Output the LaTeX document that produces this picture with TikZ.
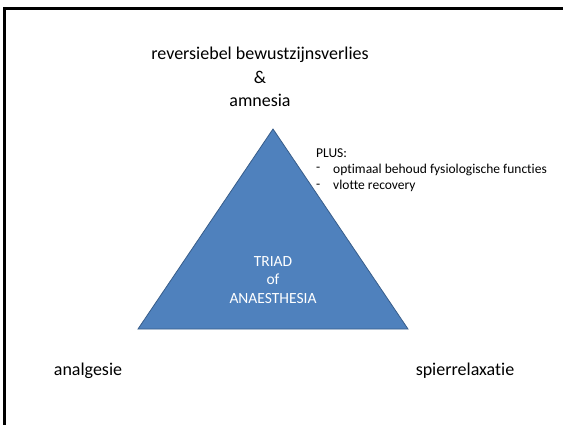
\documentclass[tikz,border=0pt]{standalone}
\usepackage{fontspec}
\setmainfont{Carlito}[Ligatures=NoCommon]
\usetikzlibrary{positioning}
\definecolor{triblue}{RGB}{79,129,189}
\definecolor{triedge}{RGB}{56,93,138}

\begin{document}
\begin{tikzpicture}[
    x=1pt,y=-1pt,
    lbl/.style={align=center,font=\fontsize{18}{23.5}\selectfont,inner sep=0pt},
    note/.style={align=left,font=\fontsize{13.5}{16.5}\selectfont,inner sep=0pt},
    inlbl/.style={align=center,text=white,font=\fontsize{15.5}{18.5}\selectfont,inner sep=0pt},
    tri/.style={draw=triedge,fill=triblue,line width=0.8pt},
    frame/.style={line width=3.5pt,line cap=rect}
  ]
    \useasboundingbox (0,0) rectangle (563,425);
    \draw[frame] (4.5,430) -- (4.5,8.5) -- (570,8.5);
    % triangle corners
    \coordinate (apex) at (273,129);
    \coordinate (bl) at (138,329);
    \coordinate (br) at (408,329);
    \draw[tri] (apex) -- (bl) -- (br) -- cycle;
    \node[inlbl] (triad) at (273,280) {TRIAD\\of\\ANAESTHESIA};
    \node[lbl] (top) at (260,77) {reversiebel bewustzijnsverlies\\\&\\amnesia};
    \node[note,anchor=west] (plus) at (316,153) {PLUS:};
    \node[note,anchor=west] (dasha) at (316,169.5) {-};
    \node[note,anchor=west] (itema) at (333,169.5) {optimaal behoud fysiologische functies};
    \node[note,anchor=west] (dashb) at (316,186) {-};
    \node[note,anchor=west] (itemb) at (333,186) {vlotte recovery};
    \node[lbl] (analg) at (88,371) {analgesie};
    \node[lbl] (spier) at (465,371) {spierrelaxatie};
  \end{tikzpicture}
\end{document}
